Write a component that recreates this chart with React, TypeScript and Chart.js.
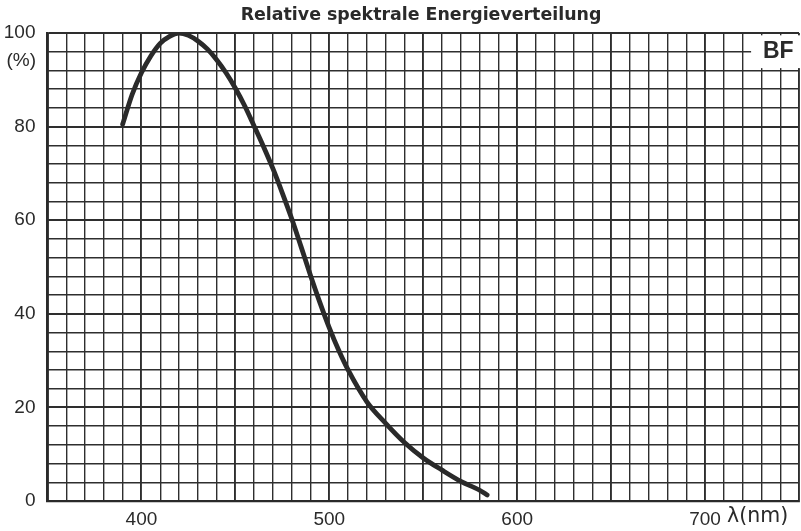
import React, { useEffect, useRef } from "react";
import { Chart, registerables } from "chart.js";

Chart.register(...registerables);

const TITLE = "Relative spektrale Energieverteilung";
const SERIES_LABEL = "BF";
const Y_UNIT = "(%)";
const X_UNIT = "λ(nm)";

const wavelengths = [390, 395, 400, 405, 410, 415, 420, 425, 430, 435, 440, 445, 450, 455, 460, 465, 470, 475, 480, 485, 490, 495, 500, 505, 510, 520, 530, 540, 550, 560, 570, 580, 584];
const relEnergy = [80.5, 86.8, 91.5, 95.1, 97.8, 99.3, 100, 99.5, 98.3, 96.6, 94.3, 91.5, 88.2, 84.4, 80.1, 75.7, 71, 65.8, 60.3, 54.3, 48.2, 42.4, 37, 32.2, 28, 21.2, 16.6, 12.5, 9.2, 6.6, 4.2, 2.3, 1.3];

const xLabelTicks = [400, 500, 600, 700];
const yLabelTicks = [0, 20, 40, 60, 80, 100];

const INK = "#2a2a2a";
const GRID = "#2e2e2e";
const TICK_FONT = { family: "'Liberation Sans', Arial, sans-serif", size: 19 };

export default function App() {
  const ref = useRef<HTMLCanvasElement | null>(null);

  useEffect(() => {
    const canvas = ref.current;
    if (!canvas) return;

    const extras = {
      id: "extras",
      afterDraw(chart: any) {
        const ctx = chart.ctx;
        const ys = chart.scales.y;
        const xs = chart.scales.x;
        ctx.save();
        // title
        ctx.fillStyle = INK;
        ctx.font = "bold 17.4px 'DejaVu Sans', sans-serif";
        ctx.textAlign = "center";
        ctx.textBaseline = "alphabetic";
        ctx.fillText(TITLE, 421, 20);
        // y unit
        ctx.font = "19px 'Liberation Sans', Arial, sans-serif";
        ctx.textAlign = "right";
        ctx.textBaseline = "middle";
        ctx.fillText(Y_UNIT, 36, ys.getPixelForValue(94));
        // x unit
        ctx.font = "20.5px 'DejaVu Sans', sans-serif";
        ctx.textAlign = "left";
        ctx.fillText(X_UNIT, xs.getPixelForValue(700) + 22, 516.5);
        // series label box
        const bx = xs.getPixelForValue(724.5);
        const by = ys.getPixelForValue(99.5);
        const by2 = ys.getPixelForValue(92.5);
        ctx.fillStyle = "#ffffff";
        ctx.fillRect(bx, by, 60, by2 - by);
        ctx.fillStyle = INK;
        ctx.font = "bold 23px 'Liberation Sans', Arial, sans-serif";
        ctx.textBaseline = "alphabetic";
        ctx.fillText(SERIES_LABEL, 763, 58);
        ctx.restore();
      },
    };

    const chart = new Chart(canvas, {
      type: "line",
      data: {
        datasets: [
          {
            label: SERIES_LABEL,
            data: wavelengths.map((w, i) => ({ x: w, y: relEnergy[i] })),
            borderColor: INK,
            borderWidth: 4.8,
            pointRadius: 0,
            cubicInterpolationMode: "monotone",
            borderCapStyle: "round",
            borderJoinStyle: "round",
            fill: false,
          },
        ],
      },
      options: {
        responsive: false,
        animation: false,
        devicePixelRatio: 1,
        layout: { padding: { top: 33, right: 4, left: 0, bottom: 0 } },
        plugins: {
          legend: { display: false },
          tooltip: { enabled: false },
          title: { display: false },
        },
        scales: {
          x: {
            type: "linear",
            min: 350,
            max: 750,
            afterFit: (s: any) => {
              s.height = 30;
            },
            border: { display: true, color: INK, width: 2.2 },
            grid: {
              color: GRID,
              drawTicks: false,
              lineWidth: (c: any) => (c.tick && c.tick.value % 50 === 0 ? 1.9 : 1.4),
            },
            ticks: {
              stepSize: 10,
              autoSkip: false,
              maxRotation: 0,
              padding: 7,
              color: INK,
              font: TICK_FONT,
              callback: (v: any) => (xLabelTicks.includes(Number(v)) ? String(v) : ""),
            },
          },
          y: {
            type: "linear",
            min: 0,
            max: 100,
            afterFit: (s: any) => {
              s.width = 47.5;
            },
            border: { display: true, color: INK, width: 2.2 },
            grid: {
              color: GRID,
              drawTicks: false,
              lineWidth: (c: any) => (c.tick && c.tick.value % 20 === 0 ? 1.9 : 1.4),
            },
            ticks: {
              stepSize: 4,
              autoSkip: false,
              padding: 12,
              color: INK,
              font: TICK_FONT,
              callback: (v: any) => (yLabelTicks.includes(Number(v)) ? String(v) : ""),
            },
          },
        },
      },
      plugins: [extras],
    } as any);

    return () => chart.destroy();
  }, []);

  return (
    <div
      style={{
        position: "fixed",
        left: 0,
        top: 0,
        width: 801,
        height: 531,
        overflow: "hidden",
        background: "#ffffff",
      }}
    >
      <canvas ref={ref} width={806} height={531} style={{ display: "block" }} />
    </div>
  );
}
